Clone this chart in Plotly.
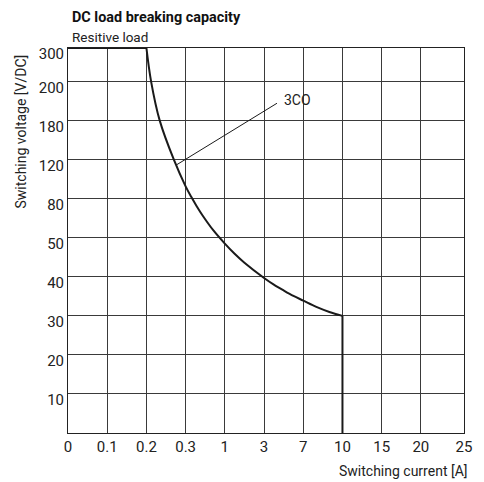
import numpy as np
import plotly.graph_objects as go

# ---- data ----
x_tick_values = [0, 0.1, 0.2, 0.3, 1, 3, 7, 10, 15, 20, 25]
x_tick_labels = ["0", "0.1", "0.2", "0.3", "1", "3", "7", "10", "15", "20", "25"]
y_tick_values = [0, 10, 20, 30, 40, 50, 80, 120, 180, 200, 300]
y_tick_labels = ["", "10", "20", "30", "40", "50", "80", "120", "180", "200", "300"]

# 3CO limit curve: switching current [A] vs switching voltage [V DC]
current_A = [0, 0.2, 0.212, 0.234, 0.27, 0.3, 0.4, 0.5, 0.6, 0.8, 1.0, 1.5, 2, 3, 4, 5, 6, 7, 8, 9, 10, 10]
voltage_V = [300, 300, 200, 180, 120, 92.7, 82.0, 74.1, 67.3, 55.4, 48.5, 45.9, 43.6, 39.7, 38.0,
             36.5, 35.1, 33.9, 32.3, 31.0, 30, 0]

curve_label = "3CO"
leader_point = (0.278, 115)   # point on curve where the label leader touches

# ---- axis layout (non-uniform printed scale) ----
x_slots = [0, 1, 2, 3, 4, 5, 6, 7, 8, 9, 10.1]
y_slots = [0, 1, 2, 3, 4, 5, 6, 7, 8, 9, 9.86]

def xpos(a):
    return np.interp(a, x_tick_values, x_slots)

def ypos(v):
    return np.interp(v, y_tick_values, y_slots)

X = xpos(current_A)
Y = ypos(voltage_V)

FONT = "Roboto, Liberation Sans, sans-serif"
LINE = "#1a1a1a"
GRID = "#3a3a3a"
TXT = "#222"

fig = go.Figure()
# horizontal top segment
fig.add_trace(go.Scatter(x=X[:2], y=Y[:2], mode="lines",
                         line=dict(color=LINE, width=2), hoverinfo="skip"))
# curved part
fig.add_trace(go.Scatter(x=X[1:-1], y=Y[1:-1], mode="lines",
                         line=dict(color=LINE, width=2, shape="spline", smoothing=1.0),
                         hoverinfo="skip"))
# vertical segment at 10 A
fig.add_trace(go.Scatter(x=X[-2:], y=Y[-2:], mode="lines",
                         line=dict(color=LINE, width=2), hoverinfo="skip"))

# white box behind label (covers grid)
fig.add_shape(type="rect", x0=5.45, x1=6.4, y0=8.03, y1=8.97,
              fillcolor="white", line=dict(width=0), layer="below")
# leader line
fig.add_shape(type="line", x0=float(xpos(leader_point[0])), y0=float(ypos(leader_point[1])),
              x1=5.33, y1=8.445, line=dict(color=LINE, width=1))
fig.add_annotation(x=5.85, y=8.535, text=curve_label, showarrow=False,
                   font=dict(family=FONT, size=14, color=TXT),
                   xanchor="center", yanchor="middle")

fig.update_xaxes(range=[0, 10.1], tickmode="array", tickvals=x_slots, ticktext=x_tick_labels,
                 showgrid=True, gridcolor=GRID, gridwidth=1, zeroline=False,
                 showline=True, linecolor="#222", linewidth=1, mirror=True,
                 ticks="", tickfont=dict(family=FONT, size=15, color=TXT),
                 fixedrange=True)
fig.update_yaxes(range=[0, 9.86], tickmode="array", tickvals=y_slots, ticktext=y_tick_labels,
                 showgrid=True, gridcolor=GRID, gridwidth=1, zeroline=False,
                 showline=True, linecolor="#222", linewidth=1, mirror=True,
                 ticks="", tickfont=dict(family=FONT, size=15, color=TXT),
                 ticklabelshift=6, fixedrange=True)

fig.add_annotation(xref="paper", yref="paper", x=0.005, y=1.08, text="<b>DC load breaking capacity</b>",
                   showarrow=False, xanchor="left", yanchor="middle",
                   font=dict(family=FONT, size=14.4, color="#111"))
fig.add_annotation(xref="paper", yref="paper", x=0.005, y=1.029, text="Resitive load",
                   showarrow=False, xanchor="left", yanchor="middle",
                   font=dict(family=FONT, size=13.5, color=TXT))
fig.add_annotation(xref="paper", yref="paper", x=1.015, y=-0.099, text="Switching current [A]",
                   showarrow=False, xanchor="right", yanchor="middle",
                   font=dict(family=FONT, size=14, color=TXT))
fig.add_annotation(xref="paper", yref="paper", x=-0.119, y=0.988, text="Switching voltage [V/DC]",
                   showarrow=False, xanchor="center", yanchor="top", textangle=-90,
                   font=dict(family=FONT, size=14, color=TXT))

# page body has an 8px margin: shrink figure so the plot lands where the reference has it
fig.update_layout(width=476, height=474, margin=dict(l=60, r=20, t=40, b=49),
                  paper_bgcolor="white", plot_bgcolor="white", showlegend=False)

fig.write_html("out.html")
